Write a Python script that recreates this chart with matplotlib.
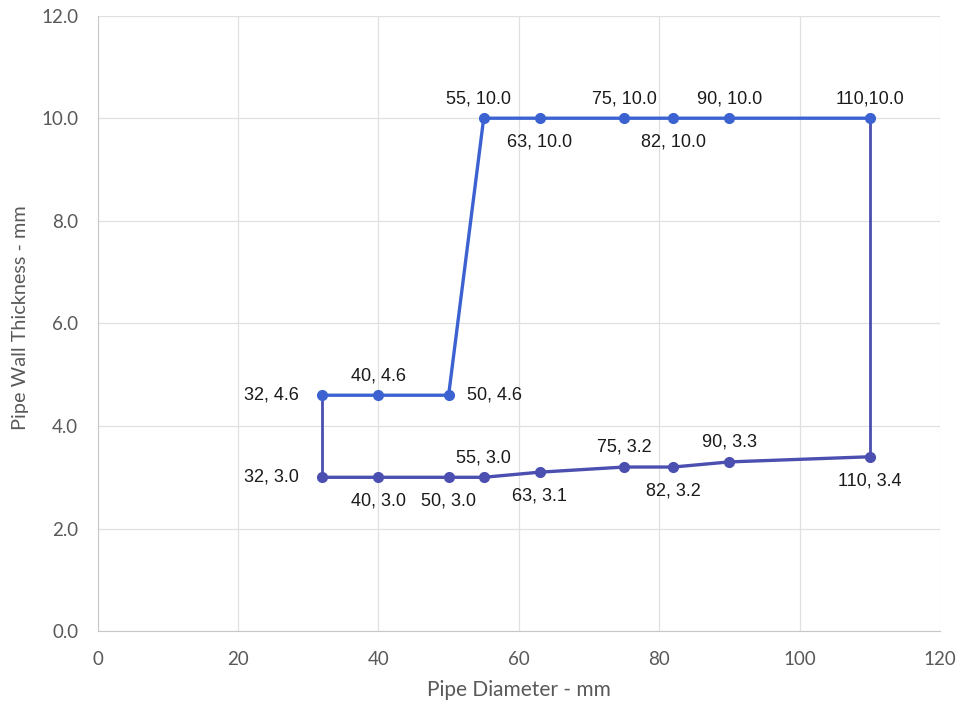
import matplotlib.pyplot as plt

# Upper series (thicker walls) and lower series
upper_d = [32, 40, 50, 55, 63, 75, 82, 90, 110]
upper_t = [4.6, 4.6, 4.6, 10.0, 10.0, 10.0, 10.0, 10.0, 10.0]
lower_d = [32, 40, 50, 55, 63, 75, 82, 90, 110]
lower_t = [3.0, 3.0, 3.0, 3.0, 3.1, 3.2, 3.2, 3.3, 3.4]

# label placement per point: l=left, r=right, a=above, b=below
upper_pos = ['l', 'a', 'r', 'al', 'b', 'a', 'b', 'a', 'a']
lower_pos = ['l', 'b', 'b', 'a', 'b', 'a', 'b', 'a', 'b']
upper_lbl = ['32, 4.6', '40, 4.6', '50, 4.6', '55, 10.0', '63, 10.0',
             '75, 10.0', '82, 10.0', '90, 10.0', '110,10.0']
lower_lbl = ['32, 3.0', '40, 3.0', '50, 3.0', '55, 3.0', '63, 3.1',
             '75, 3.2', '82, 3.2', '90, 3.3', '110, 3.4']

c_up = '#3b62d0'
c_lo = '#4a4fb0'

fig = plt.figure(figsize=(9.67, 7.10), dpi=100)
ax = fig.add_axes([0.101, 0.111, 0.871, 0.867])

# closing edges of the envelope
ax.plot([upper_d[0], lower_d[0]], [upper_t[0], lower_t[0]], color=c_lo, lw=2)
ax.plot([upper_d[-1], lower_d[-1]], [upper_t[-1], lower_t[-1]], color=c_lo, lw=2)

ax.plot(upper_d, upper_t, color=c_up, lw=2.4, marker='o', ms=7, zorder=3)
ax.plot(lower_d, lower_t, color=c_lo, lw=2.4, marker='o', ms=7, zorder=3)

offs = {'l': (-17, 0, 'right', 'center'), 'r': (13, 0, 'left', 'center'),
        'a': (0, 8, 'center', 'bottom'), 'b': (0, -11, 'center', 'top'),
        'al': (-4, 8, 'center', 'bottom')}
for xs, ys, labs, pos in [(upper_d, upper_t, upper_lbl, upper_pos),
                          (lower_d, lower_t, lower_lbl, lower_pos)]:
    for x, y, s, p in zip(xs, ys, labs, pos):
        dx, dy, ha, va = offs[p]
        ax.annotate(s, (x, y), xytext=(dx, dy), textcoords='offset points',
                    ha=ha, va=va, fontsize=13, color='#1a1a1a',
                    family='Liberation Sans')

ax.set_xlim(0, 120)
ax.set_ylim(0, 12)
ax.set_xticks(range(0, 121, 20))
ax.set_yticks(range(0, 13, 2))
ax.set_yticklabels([f'{v:.1f}' for v in range(0, 13, 2)])
ax.grid(True, color='#e0e0e0', lw=0.9)
ax.set_axisbelow(True)
for s in ['top', 'right']:
    ax.spines[s].set_visible(False)
for s in ['left', 'bottom']:
    ax.spines[s].set_color('#c8c8c8')
ax.tick_params(length=0, labelsize=13.5, colors='#595959')
ax.tick_params(axis='x', pad=14)
ax.tick_params(axis='y', pad=14)
for t in ax.get_xticklabels() + ax.get_yticklabels():
    t.set_family('Lato')

ax.set_xlabel('Pipe Diameter - mm', fontsize=15, color='#595959', family='Lato')
ax.set_ylabel('Pipe Wall Thickness - mm', fontsize=14.3, color='#595959',
              family='Lato')
ax.xaxis.set_label_coords(0.5, -0.096)
ax.yaxis.set_label_coords(-0.0915, 0.51)
ax.xaxis.label.set_va('center')
ax.yaxis.label.set_va('center')

fig.savefig('out.png', dpi=100, facecolor='white')
